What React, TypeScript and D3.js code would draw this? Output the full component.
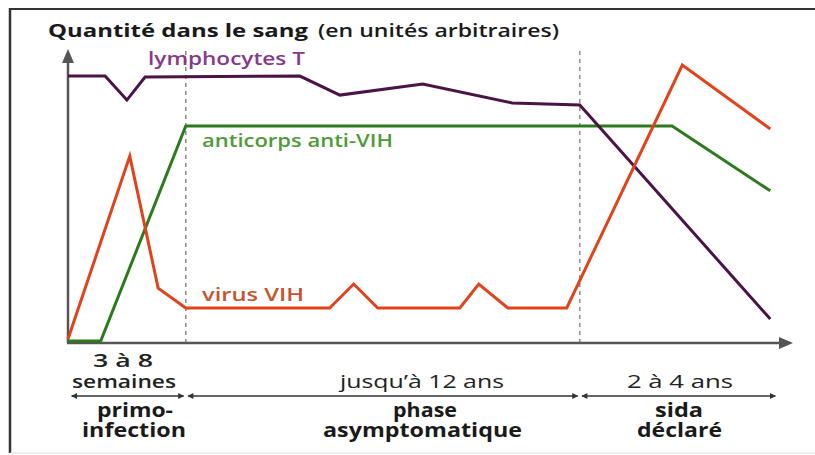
import React from "react";
import * as d3 from "d3";

const W = 815;
const H = 455;

// time (arbitrary units 0..100), quantity (arbitrary units 0..100)
const lymphoX = [0, 5.1, 8.1, 10.6, 31.9, 37.4, 48.8, 61.1, 70.4, 96.6];
const lymphoY = [91.4, 91.4, 83.2, 91.1, 91.4, 84.9, 88.7, 82.2, 81.5, 8.2];

const anticorpsX = [0, 4.5, 16.2, 83.1, 96.6];
const anticorpsY = [0.7, 0.7, 74.3, 74.3, 52.1];

const virusX = [0, 8.5, 12.4, 16.2, 36.0, 39.3, 42.6, 53.9, 56.5, 60.5, 68.6, 84.5, 96.6];
const virusY = [1.4, 64.0, 18.8, 12.0, 12.0, 20.2, 12.0, 12.0, 20.2, 12.0, 12.0, 95.2, 73.3];

const phaseBounds = [16.2, 70.4];
const phaseStart = [0.5, 16.5, 70.7];
const phaseEnd = [15.9, 70.1, 97.3];

const seriesLabels = ["lymphocytes T", "anticorps anti-VIH", "virus VIH"];
const titleMain = "Quantité dans le sang";
const titleUnit = "(en unités arbitraires)";

const x = d3.scaleLinear().domain([0, 100]).range([68, 795]);
const y = d3.scaleLinear().domain([0, 100]).range([343, 51]);

const line = d3
  .line<[number, number]>()
  .x((d) => x(d[0]))
  .y((d) => y(d[1]));

const zip = (a: number[], b: number[]) => a.map((v, i) => [v, b[i]] as [number, number]);

const FONT = "'Open Sans', 'Noto Sans', sans-serif";

type TProps = { x0: number; x1: number; y: number; size: number; weight: number; fill: string; children: string };
function FitText({ x0, x1, y: yy, size, weight, fill, children }: TProps) {
  return (
    <text x={x0} y={yy} fontSize={size} fontWeight={weight} fill={fill} textLength={x1 - x0} lengthAdjust="spacingAndGlyphs">
      {children}
    </text>
  );
}

export default function App() {
  const xEnd = x(100) - 2;
  return (
    <svg width={W} height={H} style={{ position: "absolute", left: 0, top: 0, background: "#fff" }} fontFamily={FONT}>
      <defs>
        <marker id="smallEnd" viewBox="0 0 10 10" refX="9" refY="5" markerWidth="10" markerHeight="6" orient="auto-start-reverse" markerUnits="userSpaceOnUse">
          <path d="M0,0 L10,5 L0,10 z" fill="#333" />
        </marker>
      </defs>

      {/* frame */}
      <line x1={10} y1={9} x2={W} y2={9} stroke="#333" strokeWidth={2} />
      <line x1={10} y1={8} x2={10} y2={453} stroke="#333" strokeWidth={2.5} />
      <line x1={10} y1={453} x2={W} y2={453} stroke="#ddd" strokeWidth={1} />

      {/* title */}
      <FitText x0={48} x1={308} y={37} size={18} weight={700} fill="#1a1a1a">{titleMain}</FitText>
      <FitText x0={318} x1={559} y={37} size={18} weight={600} fill="#1a1a1a">{titleUnit}</FitText>

      {/* phase boundaries */}
      {phaseBounds.map((b, i) => (
        <line key={i} x1={x(b)} x2={x(b)} y1={y(100)} y2={y(0)} stroke="#8a8a8a" strokeWidth={1.5} strokeDasharray="4,4" />
      ))}

      {/* axes */}
      <line x1={x(0)} y1={y(0)} x2={x(0)} y2={y(100) + 12} stroke="#555" strokeWidth={2.5} />
      <path d={`M${x(0) - 6},${y(100) + 12} L${x(0)},${y(100) - 2} L${x(0) + 6},${y(100) + 12} z`} fill="#555" />
      <line x1={x(0) - 1} y1={y(0)} x2={xEnd - 12} y2={y(0)} stroke="#555" strokeWidth={2.5} />
      <path d={`M${xEnd - 14},${y(0) - 6} L${xEnd},${y(0)} L${xEnd - 14},${y(0) + 6} z`} fill="#555" />

      {/* series */}
      <path d={line(zip(anticorpsX, anticorpsY)) || ""} fill="none" stroke="#2d7a1e" strokeWidth={3} />
      <path d={line(zip(lymphoX, lymphoY)) || ""} fill="none" stroke="#4a1446" strokeWidth={3} />
      <path d={line(zip(virusX, virusY)) || ""} fill="none" stroke="#e0431c" strokeWidth={3} />

      {/* series labels */}
      <FitText x0={148} x1={305} y={65} size={18} weight={600} fill="#87398a">{seriesLabels[0]}</FitText>
      <FitText x0={202} x1={393} y={147} size={18} weight={600} fill="#4f9a3a">{seriesLabels[1]}</FitText>
      <FitText x0={202} x1={304} y={301} size={18} weight={600} fill="#c4552e">{seriesLabels[2]}</FitText>

      {/* phase arrows */}
      {phaseStart.map((s, i) => (
        <line key={i} x1={x(s)} x2={x(phaseEnd[i])} y1={396} y2={396} stroke="#333" strokeWidth={1.3}
          markerStart="url(#smallEnd)" markerEnd="url(#smallEnd)" />
      ))}

      {/* phase durations */}
      <FitText x0={93} x1={153} y={367} size={18} weight={600} fill="#222">3 à 8</FitText>
      <FitText x0={72} x1={176} y={388} size={18} weight={600} fill="#222">semaines</FitText>
      <FitText x0={340} x1={504} y={388} size={18} weight={400} fill="#222">jusqu’à 12 ans</FitText>
      <FitText x0={627} x1={733} y={388} size={18} weight={400} fill="#222">2 à 4 ans</FitText>

      {/* phase names */}
      <FitText x0={97} x1={173} y={417} size={19} weight={700} fill="#1a1a1a">primo-</FitText>
      <FitText x0={82} x1={186} y={437} size={19} weight={700} fill="#1a1a1a">infection</FitText>
      <FitText x0={393} x1={457} y={417} size={19} weight={700} fill="#1a1a1a">phase</FitText>
      <FitText x0={323} x1={522} y={437} size={19} weight={700} fill="#1a1a1a">asymptomatique</FitText>
      <FitText x0={655} x1={703} y={417} size={19} weight={700} fill="#1a1a1a">sida</FitText>
      <FitText x0={637} x1={722} y={437} size={19} weight={700} fill="#1a1a1a">déclaré</FitText>
    </svg>
  );
}
